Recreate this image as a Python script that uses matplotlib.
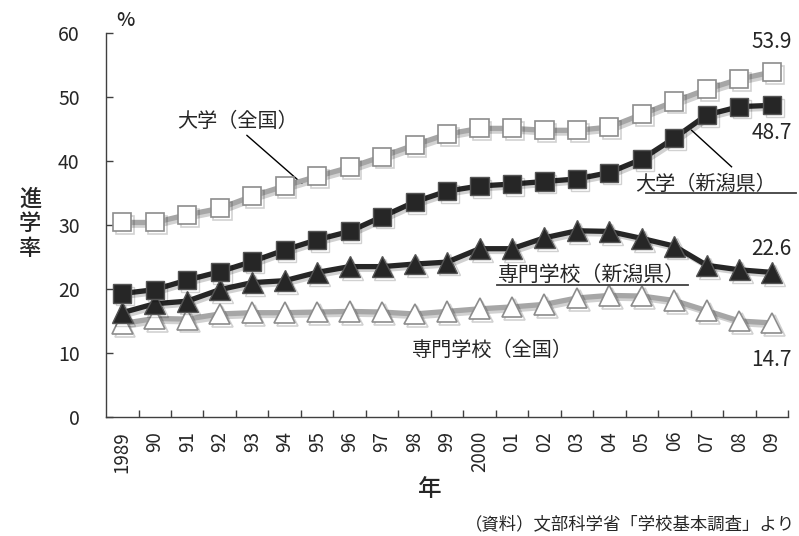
"""
大学・専門学校進学率の推移（全国・新潟県）
"""
import matplotlib
matplotlib.use("Agg")
import matplotlib.pyplot as plt
import matplotlib.patheffects as pe
import numpy as np

plt.rcParams['font.family'] = ['Noto Sans CJK JP', 'DejaVu Sans']

# 年ラベル
years = ['1989', '90', '91', '92', '93', '94', '95', '96', '97', '98', '99',
         '2000', '01', '02', '03', '04', '05', '06', '07', '08', '09']

# 進学率（%）
univ_national = [30.4, 30.4, 31.6, 32.6, 34.5, 36.1, 37.6, 39.0, 40.7, 42.5, 44.2,
                 45.1, 45.1, 44.8, 44.8, 45.3, 47.3, 49.3, 51.2, 52.8, 53.9]
univ_niigata = [19.3, 19.9, 21.4, 22.7, 24.3, 26.1, 27.7, 29.0, 31.3, 33.6, 35.3,
                36.1, 36.4, 36.8, 37.2, 38.2, 40.3, 43.6, 47.2, 48.5, 48.7]
senmon_niigata = [16.3, 17.7, 18.1, 19.9, 21.0, 21.3, 22.6, 23.5, 23.5, 23.9, 24.2,
                  26.3, 26.3, 28.0, 29.1, 29.0, 27.9, 26.7, 23.7, 23.0, 22.6]
senmon_national = [14.6, 15.4, 15.3, 16.1, 16.3, 16.3, 16.4, 16.5, 16.4, 16.1, 16.5,
                   16.9, 17.2, 17.6, 18.6, 19.0, 18.9, 18.2, 16.6, 15.0, 14.7]

TEXT = '#262626'
GRAY_LINE = '#a6a6a6'
GRAY_EDGE = '#8c8c8c'
DARK = '#262626'

fig = plt.figure(figsize=(7.99, 5.36), dpi=100)
ax = fig.add_axes([0.1327, 0.222, 0.8536, 0.7164])

x = np.arange(len(years))
shadow = [pe.SimpleLineShadow(offset=(2, -2), shadow_color='k', alpha=0.18),
          pe.Normal()]

# 描画順: 専門（全国）→ 専門（新潟）→ 大学（新潟）→ 大学（全国）
ax.plot(x, senmon_national, color=GRAY_LINE, lw=3.8, marker='^', ms=15,
        mfc='white', mec=GRAY_EDGE, mew=1.2, path_effects=shadow, zorder=3)
ax.plot(x, senmon_niigata, color=DARK, lw=3.8, marker='^', ms=15,
        mfc=DARK, mec='#555555', mew=1.0, path_effects=shadow, zorder=4)
ax.plot(x, univ_niigata, color=DARK, lw=3.8, marker='s', ms=13,
        mfc=DARK, mec='#555555', mew=1.0, path_effects=shadow, zorder=5)
ax.plot(x, univ_national, color=GRAY_LINE, lw=3.8, marker='s', ms=13,
        mfc='white', mec=GRAY_EDGE, mew=1.2, path_effects=shadow, zorder=6)

# 軸
ax.set_xlim(-0.5, len(years) - 0.5)
ax.set_ylim(0, 60)
ax.set_yticks(np.arange(0, 61, 10))
ax.set_xticks(x)
ax.set_xticklabels(years, rotation=90)
ax.set_xticks(np.arange(0.5, len(years) + 0.5, 1.0), minor=True)

for side in ['top', 'right']:
    ax.spines[side].set_visible(False)
for side in ['left', 'bottom']:
    ax.spines[side].set_color('#404040')
    ax.spines[side].set_linewidth(1.0)

ax.tick_params(axis='y', direction='in', length=5, width=1.0, color='#404040',
               pad=19, labelsize=14, labelcolor=TEXT)
ax.tick_params(axis='x', which='major', length=0, pad=10, labelsize=13.5,
               labelcolor=TEXT)
ax.tick_params(axis='x', which='minor', direction='in', length=5, width=1.0,
               color='#404040')

# 軸タイトル
fig.text(30 / 799, 1 - 224 / 536, '進\n学\n率', fontsize=16, color=TEXT,
         fontweight='medium', ha='center', va='center', linespacing=1.1)
fig.text(125 / 799, 1 - 20 / 536, '%', fontsize=14, color=TEXT,
         fontweight='medium', ha='center', va='center')
fig.text(430 / 799, 1 - 490 / 536, '年', fontsize=17, color=TEXT,
         fontweight='medium', ha='center', va='center')
fig.text(795 / 799, 1 - 524 / 536, '（資料）文部科学省「学校基本調査」より',
         fontsize=12.5, color=TEXT, ha='right', va='center')

# 系列名
ax.annotate('大学（全国）', xy=(5.53, 36.5), xytext=(3.55, 46.1),
            fontsize=14.5, color=TEXT, ha='center', va='center',
            arrowprops=dict(arrowstyle='-', color='k', lw=1.0,
                            shrinkA=0, shrinkB=0,
                            relpos=(0.55, 0.0)))
ax.plot([17.53, 18.76], [44.8, 39.1], color='k', lw=1.0, zorder=7)
ax.text(17.95, 36.4, '大学（新潟県）', fontsize=14.5, color=TEXT,
        ha='center', va='center')
ax.plot([16.14, 20.73], [35.05, 35.05], color='#404040', lw=1.3,
        clip_on=False, zorder=7)
ax.text(14.45, 22.2, '専門学校（新潟県）', fontsize=15, color=TEXT,
        ha='center', va='center')
ax.plot([11.53, 17.42], [20.7, 20.7], color='#404040', lw=1.3, zorder=7)
ax.text(11.4, 10.45, '専門学校（全国）', fontsize=14.5, color=TEXT,
        ha='center', va='center')

# 最終年の値
last = len(years) - 1
ax.annotate(f'{univ_national[-1]:.1f}', xy=(last, univ_national[-1]),
            xytext=(0, 22), textcoords='offset points', fontsize=15,
            color=TEXT, ha='center', va='center', annotation_clip=False)
ax.annotate(f'{univ_niigata[-1]:.1f}', xy=(last, univ_niigata[-1]),
            xytext=(0, -20), textcoords='offset points', fontsize=15,
            color=TEXT, ha='center', va='center', annotation_clip=False)
ax.annotate(f'{senmon_niigata[-1]:.1f}', xy=(last, senmon_niigata[-1]),
            xytext=(0, 17), textcoords='offset points', fontsize=15,
            color=TEXT, ha='center', va='center', annotation_clip=False)
ax.annotate(f'{senmon_national[-1]:.1f}', xy=(last, senmon_national[-1]),
            xytext=(0, -27), textcoords='offset points', fontsize=15,
            color=TEXT, ha='center', va='center', annotation_clip=False)

fig.savefig('out.png', dpi=100)
